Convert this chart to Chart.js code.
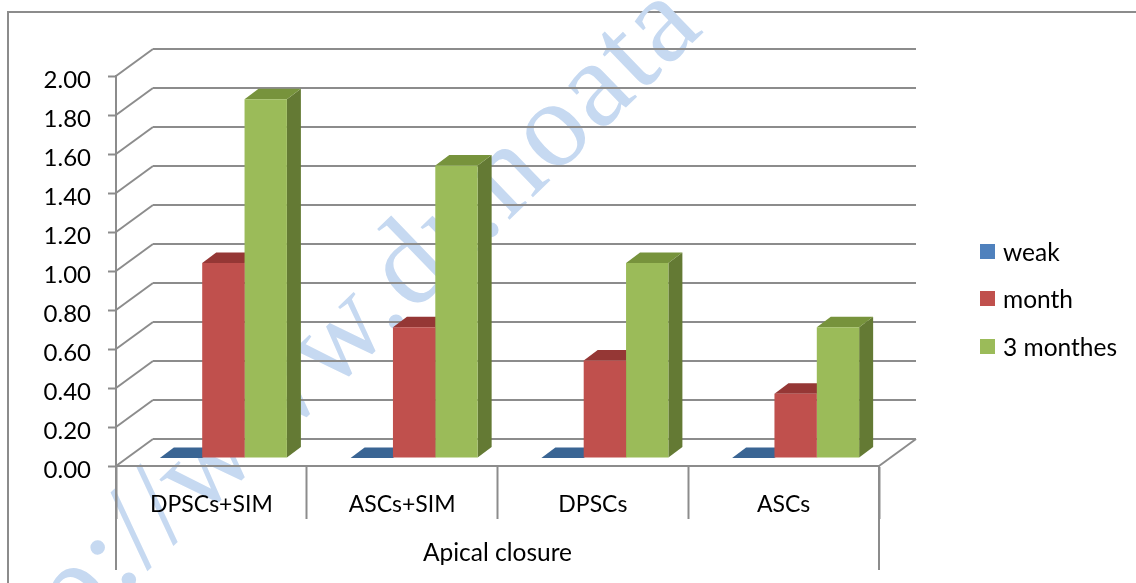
<!DOCTYPE html>
<html>
<head>
<meta charset="utf-8">
<title>Apical closure</title>
<script src="https://cdn.jsdelivr.net/npm/chart.js@4"></script>
<style>
  html, body { margin: 0; padding: 0; background: #fff; }
  #wrap { width: 1136px; height: 583px; }
</style>
</head>
<body>
<div id="wrap"><canvas id="myChart"></canvas></div>
<script>
const categories = ['DPSCs+SIM', 'ASCs+SIM', 'DPSCs', 'ASCs'];
const weak = [0, 0, 0, 0];
const month = [1.00, 0.67, 0.50, 0.33];
const threeMonths = [1.84, 1.50, 1.00, 0.67];
const seriesNames = ['weak', 'month', '3 monthes'];
const axisTitle = 'Apical closure';
const watermark = 'http://www.dr.noata';

const fontName = 'Lato';
const lineColor = '#8c8c8c';
const faceColors = ['#4f81bd', '#c0504d', '#9bbb59'];
const topColors = ['#3a6594', '#953735', '#77933c'];
const sideColors = ['#2f5279', '#7a2c2a', '#647a34'];

// 3d look: how far the back wall sits from the front, and how deep a bar is
const wallX = 37, wallY = -27;
const barShiftX = 12, barShiftY = -8;
const barDepthX = 14, barDepthY = -10.5;

function face(ctx, points, color) {
    ctx.fillStyle = color;
    ctx.beginPath();
    points.forEach((p, i) => i ? ctx.lineTo(p[0], p[1]) : ctx.moveTo(p[0], p[1]));
    ctx.closePath();
    ctx.fill();
}

function line(ctx, x1, y1, x2, y2) {
    ctx.beginPath();
    ctx.moveTo(x1, y1);
    ctx.lineTo(x2, y2);
    ctx.stroke();
}

const background3d = {
    id: 'background3d',
    beforeDraw(chart) {
        const ctx = chart.ctx;
        ctx.save();
        // chart frame
        ctx.strokeStyle = lineColor;
        ctx.lineWidth = 2;
        ctx.beginPath();
        ctx.moveTo(8, 583);
        ctx.lineTo(8, 12);
        ctx.lineTo(1136, 12);
        ctx.stroke();
        // watermark sits behind everything
        ctx.translate(-23, 734);
        ctx.rotate(-44 * Math.PI / 180);
        ctx.font = '123px "Liberation Serif"';
        ctx.letterSpacing = '2px';
        ctx.fillStyle = '#c6d9f1';
        ctx.textBaseline = 'alphabetic';
        ctx.fillText(watermark, 0, 0);
        ctx.restore();
    },
    beforeDatasetsDraw(chart) {
        const ctx = chart.ctx;
        const { left, right, bottom } = chart.chartArea;
        const y = chart.scales.y;
        ctx.save();
        ctx.strokeStyle = lineColor;
        ctx.lineWidth = 2;
        y.ticks.forEach((tick, i) => {
            const py = y.getPixelForTick(i);
            line(ctx, left, py, left + wallX, py + wallY);
            line(ctx, left + wallX, py + wallY, right + wallX, py + wallY);
        });
        line(ctx, right, bottom, right + wallX, bottom + wallY);
        // outer ends of the two level category axis
        line(ctx, left, bottom, left, 570);
        line(ctx, right, bottom, right, 570);
        ctx.restore();

        ctx.save();
        ctx.translate(barShiftX, barShiftY);
        // tops and sides first, the library then paints the front faces over them
        chart.data.datasets.forEach((ds, i) => {
            chart.getDatasetMeta(i).data.forEach(bar => {
                const x0 = bar.x - bar.width / 2;
                const x1 = bar.x + bar.width / 2;
                face(ctx, [[x1, bar.y], [x1 + barDepthX, bar.y + barDepthY], [x1 + barDepthX, bar.base + barDepthY], [x1, bar.base]], sideColors[i]);
                face(ctx, [[x0, bar.y], [x1, bar.y], [x1 + barDepthX, bar.y + barDepthY], [x0 + barDepthX, bar.y + barDepthY]], topColors[i]);
            });
        });
    },
    afterDatasetsDraw(chart) {
        chart.ctx.restore();
    },
    afterDraw(chart) {
        const ctx = chart.ctx;
        ctx.save();
        ctx.font = '24.5px ' + fontName;
        ctx.textBaseline = 'middle';
        const rows = [252, 299, 347];
        chart.data.datasets.forEach((ds, i) => {
            ctx.fillStyle = faceColors[i];
            ctx.fillRect(980, rows[i] - 8, 15, 15);
            ctx.fillStyle = '#000';
            ctx.fillText(ds.label, 1003, rows[i] + 1);
        });
        ctx.restore();
    }
};

const ctx = document.getElementById('myChart').getContext('2d');
new Chart(ctx, {
    type: 'bar',
    data: {
        labels: categories,
        datasets: [
            { label: seriesNames[0], data: weak, backgroundColor: faceColors[0] },
            { label: seriesNames[1], data: month, backgroundColor: faceColors[1] },
            { label: seriesNames[2], data: threeMonths, backgroundColor: faceColors[2] }
        ]
    },
    options: {
        responsive: true,
        maintainAspectRatio: false,
        animation: false,
        layout: { padding: { top: 76, right: 257, bottom: 0, left: 0 } },
        datasets: { bar: { categoryPercentage: 0.666, barPercentage: 1 } },
        plugins: {
            legend: { display: false },
            title: { display: false },
            tooltip: { enabled: false }
        },
        scales: {
            x: {
                afterFit: scale => { scale.height = 117; },
                offset: true,
                border: { color: lineColor, width: 2 },
                grid: { drawOnChartArea: false, drawTicks: true, tickLength: 53, tickColor: lineColor, tickWidth: 2, offset: true },
                ticks: { color: '#000', font: { family: fontName, size: 23 }, padding: -28, maxRotation: 0 },
                title: { display: true, text: axisTitle, color: '#000', font: { family: fontName, size: 24.5 }, padding: { top: 0, bottom: 15 } }
            },
            y: {
                afterFit: scale => { scale.width = 116; },
                min: 0,
                max: 2,
                border: { color: lineColor, width: 2 },
                grid: { drawOnChartArea: false, tickLength: 8, tickColor: lineColor, tickWidth: 2 },
                ticks: {
                    stepSize: 0.2,
                    color: '#000',
                    padding: 17,
                    labelOffset: 4,
                    font: { family: fontName, size: 24 },
                    callback: value => value.toFixed(2)
                }
            }
        }
    },
    plugins: [background3d]
});
</script>
</body>
</html>
